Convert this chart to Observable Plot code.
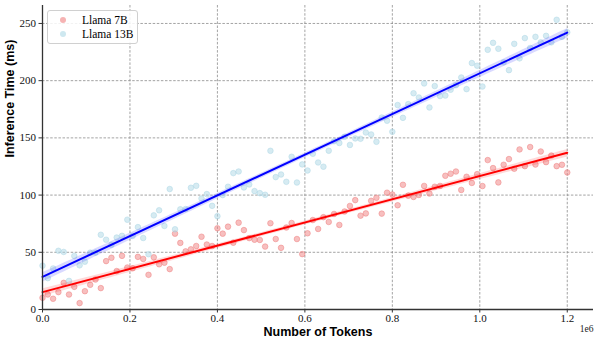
<!DOCTYPE html>
<html>
<head>
<meta charset="utf-8">
<script src="https://cdn.jsdelivr.net/npm/d3@7"></script>
<script src="https://cdn.jsdelivr.net/npm/@observablehq/plot@0.6"></script>
<style>
  html, body { margin: 0; padding: 0; background: #fff; }
  #wrap { position: relative; width: 598px; height: 344px; }
  #legend {
    position: absolute; left: 47px; top: 10px; width: 89px; height: 32px;
    border: 1px solid #d0d0d0; border-radius: 3px; background: rgba(255,255,255,0.85);
    font-family: "Liberation Serif", serif; font-size: 11.5px; color: #000;
  }
  .row { position: absolute; left: 0; height: 14px; line-height: 14px; }
  .row .sw { position: absolute; left: 12px; top: 4px; width: 6px; height: 6px; border-radius: 50%; }
  .row .lb { position: absolute; left: 34px; top: 0; white-space: nowrap; }
</style>
</head>
<body>
<div id="wrap"><div id="legend"></div></div>
<script>
// Categories / series
const seriesNames = ["Llama 7B", "Llama 13B"];
const tokens = [0, 12121, 24242, 36364, 48485, 60606, 72727, 84848, 96970, 109091,
  121212, 133333, 145455, 157576, 169697, 181818, 193939, 206061, 218182, 230303,
  242424, 254545, 266667, 278788, 290909, 303030, 315152, 327273, 339394, 351515,
  363636, 375758, 387879, 400000, 412121, 424242, 436364, 448485, 460606, 472727,
  484848, 496970, 509091, 521212, 533333, 545455, 557576, 569697, 581818, 593939,
  606061, 618182, 630303, 642424, 654545, 666667, 678788, 690909, 703030, 715152,
  727273, 739394, 751515, 763636, 775758, 787879, 800000, 812121, 824242, 836364,
  848485, 860606, 872727, 884848, 896970, 909091, 921212, 933333, 945455, 957576,
  969697, 981818, 993939, 1006061, 1018182, 1030303, 1042424, 1054545, 1066667, 1078788,
  1090909, 1103030, 1115152, 1127273, 1139394, 1151515, 1163636, 1175758, 1187879, 1200000];
const llama7B = [10.2, 13.1, 9.4, 15.2, 23.3, 13.1, 19.8, 5.6, 16.0, 21.6,
  26.2, 18.7, 42.3, 45.2, 33.6, 46.9, 36.7, 36.0, 46.0, 44.2,
  30.3, 45.6, 39.5, 40.9, 35.3, 66.3, 58.2, 50.8, 52.6, 55.5,
  63.6, 56.8, 55.5, 71.0, 66.3, 72.4, 58.4, 75.9, 69.4, 62.4,
  61.0, 60.8, 55.0, 75.4, 61.6, 53.9, 71.7, 75.6, 61.6, 48.4,
  66.6, 78.2, 70.4, 80.7, 76.5, 83.5, 73.9, 85.7, 90.5, 95.6,
  82.0, 84.0, 95.0, 97.7, 83.8, 102.1, 100.5, 91.1, 109.0, 99.5,
  98.4, 100.1, 108.0, 101.4, 107.3, 108.0, 116.9, 118.7, 120.6, 104.5,
  116.0, 110.6, 118.3, 107.9, 130.6, 123.6, 111.1, 126.5, 131.5, 123.0,
  139.9, 125.3, 142.0, 126.7, 138.1, 128.8, 134.6, 125.3, 126.5, 119.8];
const llama13B = [38.3, 27.4, 35.9, 51.3, 50.3, 25.0, 46.8, 38.6, 41.8, 49.7,
  49.7, 65.3, 61.0, 56.6, 62.9, 64.4, 78.5, 64.3, 72.0, 62.5,
  48.3, 82.3, 86.7, 73.0, 105.3, 70.1, 87.6, 87.8, 106.4, 108.1,
  97.0, 100.9, 90.6, 81.6, 100.0, 107.3, 119.2, 120.6, 106.7, 109.3,
  103.5, 101.7, 100.3, 138.7, 115.7, 118.0, 111.6, 133.5, 111.0, 126.8,
  121.5, 136.1, 128.5, 124.8, 138.8, 147.0, 145.5, 151.0, 143.8, 149.5,
  149.2, 154.7, 153.0, 146.6, 167.8, 165.0, 155.3, 178.7, 167.5, 179.5,
  189.0, 185.3, 197.6, 176.6, 195.3, 186.6, 187.0, 192.1, 196.0, 202.8,
  192.6, 215.4, 213.1, 194.9, 227.0, 233.1, 227.9, 216.0, 209.2, 232.2,
  219.5, 237.2, 228.6, 238.3, 233.5, 239.2, 233.5, 253.2, 238.3, 242.3];
const xTicks = [0, 200000, 400000, 600000, 800000, 1000000, 1200000];
const yTicks = [0, 50, 100, 150, 200, 250];
const pointColors = ["#f08080", "#add8e6"];
const lineColors = ["#ff0000", "#0000ff"];

const d7 = tokens.map((t, i) => ({tokens: t, ms: llama7B[i]}));
const d13 = tokens.map((t, i) => ({tokens: t, ms: llama13B[i]}));

const gridStyle = {stroke: "#8c8c8c", strokeOpacity: 1, strokeWidth: 0.8, strokeDasharray: "2.5,1.6"};

const chart = Plot.plot({
  width: 598,
  height: 344,
  marginLeft: 42,
  marginRight: 5,
  marginTop: 5,
  marginBottom: 35,
  x: {domain: [0, 1260000]},
  y: {domain: [0, 265.7]},
  style: {fontFamily: "'Liberation Serif', serif", fontSize: "11px", background: "white", color: "#111"},
  marks: [
    Plot.gridY(yTicks.filter(d => d > 0), gridStyle),
    Plot.gridX(xTicks.filter(d => d > 0), gridStyle),
    Plot.dot(d7, {x: "tokens", y: "ms", r: 2.8, fill: pointColors[0], fillOpacity: 0.5, stroke: pointColors[0], strokeOpacity: 0.5, strokeWidth: 1}),
    Plot.dot(d13, {x: "tokens", y: "ms", r: 2.8, fill: pointColors[1], fillOpacity: 0.5, stroke: pointColors[1], strokeOpacity: 0.5, strokeWidth: 1}),
    Plot.linearRegressionY(d7, {x: "tokens", y: "ms", stroke: lineColors[0], fill: lineColors[0], fillOpacity: 0.15, strokeWidth: 2, ci: 0.95}),
    Plot.linearRegressionY(d13, {x: "tokens", y: "ms", stroke: lineColors[1], fill: lineColors[1], fillOpacity: 0.15, strokeWidth: 2, ci: 0.95}),
    Plot.ruleX([0], {stroke: "#333", strokeWidth: 1.3}),
    Plot.ruleY([0], {stroke: "#333", strokeWidth: 1.3}),
    Plot.axisX(xTicks, {tickSize: 3.5, tickPadding: 1, tickFormat: d => (d / 1e6).toFixed(1), label: null, stroke: "#333"}),
    Plot.axisY(yTicks, {tickSize: 3.5, tickPadding: 3, tickFormat: d => String(d), label: null, stroke: "#333"}),
    Plot.text(["Number of Tokens"], {frameAnchor: "bottom", dy: 26, fontFamily: "'Liberation Sans', Arial, sans-serif", fontWeight: "bold", fontSize: 12.5, fill: "#000"}),
    Plot.text(["Inference Time (ms)"], {frameAnchor: "left", dx: -33, rotate: -90, fontFamily: "'Liberation Sans', Arial, sans-serif", fontWeight: "bold", fontSize: 12.5, fill: "#000"}),
    Plot.text(["1e6"], {frameAnchor: "bottom-right", dy: 22, textAnchor: "end", fontFamily: "'Liberation Serif', serif", fontSize: 9.5, fill: "#222"})
  ]
});
document.getElementById("wrap").prepend(chart);

const legend = document.getElementById("legend");
seriesNames.forEach((name, i) => {
  const row = document.createElement("div");
  row.className = "row";
  row.style.top = (2 + i * 14) + "px";
  row.style.width = "100%";
  const sw = document.createElement("span");
  sw.className = "sw";
  sw.style.background = pointColors[i];
  sw.style.opacity = 0.6;
  const lb = document.createElement("span");
  lb.className = "lb";
  lb.textContent = name;
  row.appendChild(sw); row.appendChild(lb);
  legend.appendChild(row);
});
document.querySelector("#wrap svg").style.position = "absolute";
document.querySelector("#wrap svg").style.left = "0";
document.querySelector("#wrap svg").style.top = "0";
</script>
</body>
</html>
